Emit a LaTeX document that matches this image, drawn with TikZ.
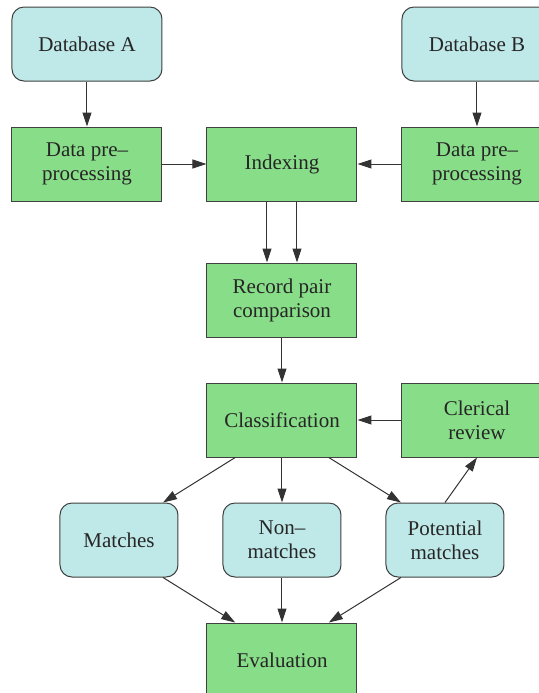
\documentclass[tikz,border=0pt]{standalone}
\usepackage{fontspec}
\setmainfont{Liberation Serif}
\usepackage{xcolor}
\usepackage{tikz}
\usetikzlibrary{calc}
\usetikzlibrary{positioning, arrows.meta}
\definecolor{dbcyan}{RGB}{191,232,232}
\definecolor{stepgreen}{RGB}{136,221,136}

\begin{document}
\begin{tikzpicture}[
		node distance=22.5pt and 22pt,
		font=\fontsize{10.5}{12}\selectfont,
		% Styles
		box/.style={rectangle, draw=black!75, line width=0.5pt, fill=stepgreen, minimum width=75pt, minimum height=37pt, align=center, text=black!85, inner sep=2pt},
		store/.style={box, fill=dbcyan, rounded corners=6pt},
		result/.style={store, minimum width=59pt},
		arrow/.style={-{Triangle[length=7pt,width=4.5pt]}, draw=black!80, line width=0.5pt}
	]

	\useasboundingbox (0,0) rectangle (269.5pt,-346.5pt);

	% --- Inputs ---
	\node[store] (db_a) at (43.5pt,-22pt) {Database A};
	\node[box] (prep_a) [below=of db_a] {Data pre--\\processing};
	\node[box] (indexing) [right=of prep_a] {Indexing};
	\node[box] (prep_b) [right=of indexing] {Data pre--\\processing};
	\node[store] (db_b) [above=of prep_b] {Database B};

	% --- Main linear flow ---
	\node[box] (comparison) [below=30.5pt of indexing] {Record pair\\comparison};
	\node[box] (classification) [below=of comparison] {Classification};
	\node[box] (clerical) [right=of classification] {Clerical\\review};

	% --- Outcomes ---
	\node[result] (non_matches) [below=of classification] {Non--\\matches};
	\node[result] (matches) [left=of non_matches] {Matches};
	\node[result] (potential) [right=of non_matches] {Potential\\matches};
	\node[box] (evaluation) [below=of non_matches] {Evaluation};

	% --- ARROWS ---
	% Cleaning and indexing
	\draw[arrow] (db_a) -- (prep_a);
	\draw[arrow] (db_b) -- (prep_b);
	\draw[arrow] (prep_a) -- (indexing);
	\draw[arrow] (prep_b) -- (indexing);
	\draw[arrow] ([xshift=-7.5pt]indexing.south) -- ([xshift=-7.5pt]comparison.north);
	\draw[arrow] ([xshift=7.5pt]indexing.south) -- ([xshift=7.5pt]comparison.north);

	% Comparison and classification
	\draw[arrow] (comparison) -- (classification);
	\draw[arrow] (clerical) -- (classification);
	\draw[arrow] ($(classification.south west)!0.19!(classification.south east)$) -- ($(matches.north west)!0.87!(matches.north east)$);
	\draw[arrow] (classification) -- (non_matches);
	\draw[arrow] ($(classification.south west)!0.81!(classification.south east)$) -- ($(potential.north west)!0.13!(potential.north east)$);
	\draw[arrow] (potential.north) -- (clerical.south);

	% Evaluation
	\draw[arrow] ($(matches.south west)!0.87!(matches.south east)$) -- ($(evaluation.north west)!0.19!(evaluation.north east)$);
	\draw[arrow] (non_matches) -- (evaluation);
	\draw[arrow] ($(potential.south west)!0.13!(potential.south east)$) -- ($(evaluation.north west)!0.81!(evaluation.north east)$);

\end{tikzpicture}
\end{document}
